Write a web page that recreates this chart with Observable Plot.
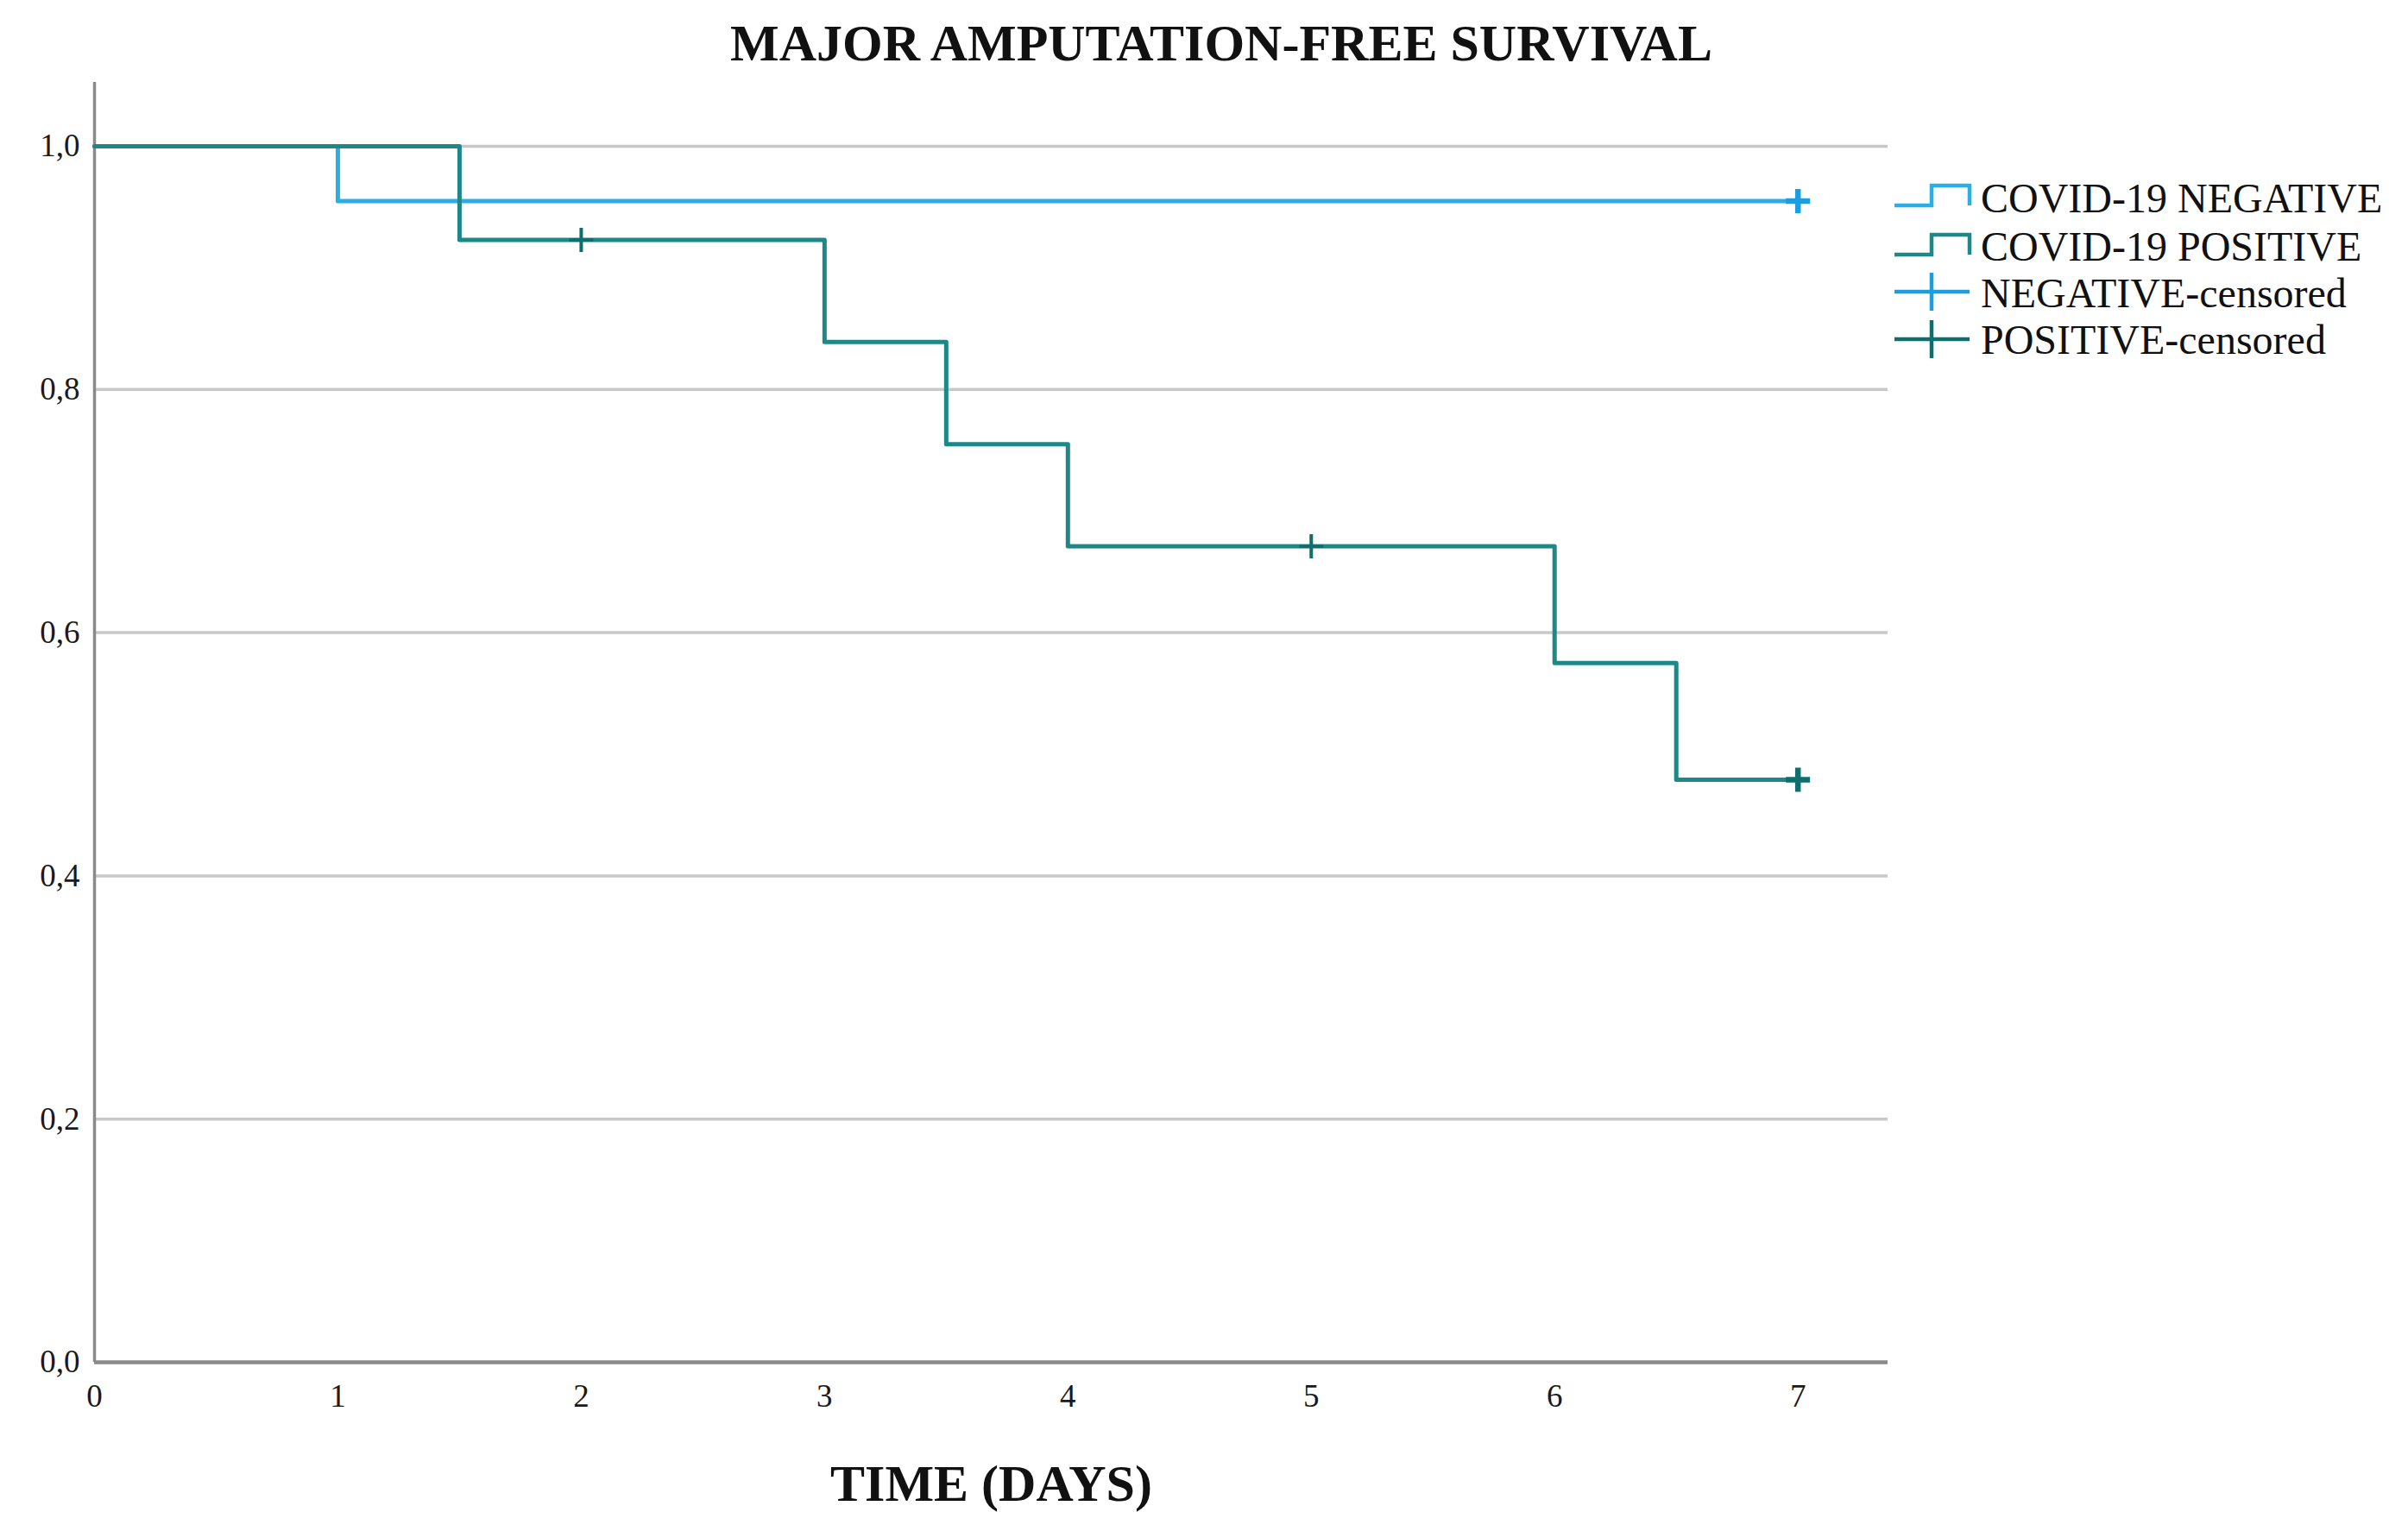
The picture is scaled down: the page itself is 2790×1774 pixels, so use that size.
<!DOCTYPE html>
<html>
<head>
<meta charset="utf-8">
<script src="https://cdn.jsdelivr.net/npm/d3@7"></script>
<script src="https://cdn.jsdelivr.net/npm/@observablehq/plot@0.6"></script>
<style>
  html, body { margin: 0; padding: 0; background: #ffffff; overflow: hidden; }
  #wrap { position: relative; width: 2790px; height: 1774px; font-family: "Liberation Serif", "Times New Roman", serif; }
  #title { position: absolute; left: 1415px; top: 20px; transform: translateX(-50%); white-space: nowrap;
           font-size: 60px; line-height: 60px; font-weight: bold; color: #111; }
  #titlebox { height: 80px; }
  #legend { position: absolute; left: 0; top: 0; pointer-events: none; }
</style>
</head>
<body>
<div id="wrap">
  <div id="titlebox"><div id="title"></div></div>
  <div id="chart"></div>
</div>
<script>
// ---------- data ----------
const chartTitle = "MAJOR AMPUTATION-FREE SURVIVAL";
const xLabel = "TIME (DAYS)";
const xTicks = [0, 1, 2, 3, 4, 5, 6, 7];
const yTicks = [0, 0.2, 0.4, 0.6, 0.8, 1.0];
const yTickLabels = ["0,0", "0,2", "0,4", "0,6", "0,8", "1,0"];

// COVID-19 NEGATIVE survival steps
const negTime = [0, 1, 7];
const negSurv = [1.0, 0.955, 0.955];
// COVID-19 POSITIVE survival steps
const posTime = [0, 1.5, 3, 3.5, 4, 6, 6.5, 7];
const posSurv = [1.0, 0.923, 0.839, 0.755, 0.671, 0.575, 0.479, 0.479];

// censored observations
const negCensTime = [7];
const negCensSurv = [0.955];
const negCensCount = [21];
const posCensTime = [2, 5, 7];
const posCensSurv = [0.923, 0.671, 0.479];
const posCensCount = [1, 1, 5];

const legendLabels = ["COVID-19 NEGATIVE", "COVID-19 POSITIVE", "NEGATIVE-censored", "POSITIVE-censored"];

// ---------- styles ----------
const NEG = "#2aaee8";
const POS = "#1e8787";
const NEG_C = "#1c9fe2";
const POS_C = "#0f6f6f";

const neg = negTime.map((t, i) => ({t, s: negSurv[i]}));
const pos = posTime.map((t, i) => ({t, s: posSurv[i]}));
const negCens = negCensTime.map((t, i) => ({t, s: negCensSurv[i], n: negCensCount[i]}));
const posCens = posCensTime.map((t, i) => ({t, s: posCensSurv[i], n: posCensCount[i]}));

const crossSymbol = {
  draw(ctx, size) {
    const h = Math.sqrt(size / Math.PI);
    ctx.moveTo(-h, 0); ctx.lineTo(h, 0);
    ctx.moveTo(0, -h); ctx.lineTo(0, h);
  }
};

document.getElementById("title").textContent = chartTitle;

const plot = Plot.plot({
  width: 2790,
  height: 1694,
  marginLeft: 109,
  marginRight: 603,
  marginTop: 15,
  marginBottom: 196,
  x: {domain: [0, 7.37]},
  y: {domain: [0, 1.0525]},
  style: {fontFamily: "Liberation Serif, Times New Roman, serif", background: "#ffffff", color: "#1a1a1a", overflow: "visible"},
  marks: [
    Plot.gridY(yTicks.filter(d => d > 0), {stroke: "#c8c8c8", strokeOpacity: 1, strokeWidth: 3.5}),
    Plot.axisY({ticks: yTicks, tickSize: 0, tickPadding: 17, fontSize: 37,
      tickFormat: d => yTickLabels[yTicks.indexOf(d)], label: null}),
    Plot.axisX({ticks: xTicks, tickSize: 0, tickPadding: 25, fontSize: 37, tickFormat: d => String(d), label: null}),
    Plot.ruleX([0], {stroke: "#8a8a8a", strokeWidth: 3.5}),
    Plot.ruleY([0], {stroke: "#8a8a8a", strokeWidth: 4.5}),
    Plot.line(neg, {x: "t", y: "s", curve: "step-after", stroke: NEG, strokeWidth: 5}),
    Plot.line(pos, {x: "t", y: "s", curve: "step-after", stroke: POS, strokeWidth: 5}),
    Plot.dot(negCens, {x: "t", y: "s", symbol: crossSymbol, r: 14, fill: "none", stroke: NEG_C,
      strokeWidth: d => d.n > 1 ? 6.5 : 4}),
    Plot.dot(posCens, {x: "t", y: "s", symbol: crossSymbol, r: 14, fill: "none", stroke: POS_C,
      strokeWidth: d => d.n > 1 ? 6.5 : 4}),
    Plot.text([xLabel], {text: d => d, frameAnchor: "bottom", dy: 160, lineAnchor: "bottom",
      fontSize: 60, fontWeight: "bold", fill: "#111"})
  ]
});
document.getElementById("chart").appendChild(plot);

// ---------- legend ----------
const legendColors = [NEG, POS, NEG_C, POS_C];
const legendKinds = ["step", "step", "cross", "cross"];
const legendBaselines = [246, 302, 356, 410];
const legendCenters = [227, 284, 338, 393];
const lg = d3.select("#wrap").append("svg").attr("id", "legend").attr("width", 2790).attr("height", 500);
legendLabels.forEach((label, i) => {
  const c = legendCenters[i];
  if (legendKinds[i] === "step") {
    lg.append("path")
      .attr("d", `M2195,${c + 11}H2238V${c - 12}H2282V${c + 11}`)
      .attr("fill", "none").attr("stroke", legendColors[i]).attr("stroke-width", 4.5);
  } else {
    lg.append("path")
      .attr("d", `M2195,${c}H2282M2238,${c - 22}V${c + 22}`)
      .attr("fill", "none").attr("stroke", legendColors[i]).attr("stroke-width", 4.5);
  }
  lg.append("text")
    .attr("x", 2295).attr("y", legendBaselines[i])
    .attr("font-family", "Liberation Serif, Times New Roman, serif")
    .attr("font-size", 48).attr("fill", "#111")
    .text(label);
});
</script>
</body>
</html>
